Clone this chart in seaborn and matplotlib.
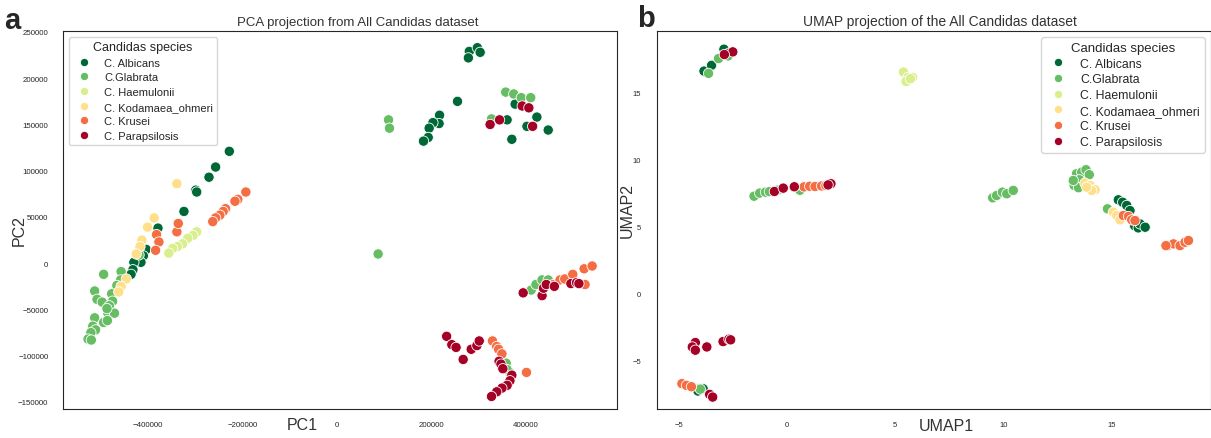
import matplotlib
matplotlib.use("Agg")
import pandas as pd
import matplotlib.pyplot as plt
import seaborn as sns

species = ["C. Albicans", "C.Glabrata", "C. Haemulonii",
           "C. Kodamaea_ohmeri", "C. Krusei", "C. Parapsilosis"]
colors = ["#006837", "#66bd63", "#d9ef8b", "#fee08b", "#f46d43", "#a50026"]

# --------------------------
# PCA coordinates (in thousands)
# --------------------------
pca_albicans_x = [-228, -257, -271, -299, -297, -324, -379, -404, -410, -415, -430, -432, -436,
                  280, 297, 303, 278, 255, 217, 216, 203, 195, 193, 183,
                  377, 360, 423, 402, 370, 447, 365]
pca_albicans_y = [121, 104, 93, 79, 77, 56, 38, 15, 8, 1, 1, -7, -12,
                  229, 233, 228, 222, 175, 160, 151, 152, 146, 136, 132,
                  172, 155, 158, 148, 134, 144, -118]
pca_glabrata_x = [-494, -457, -419, -458, -466, -513, -508, -497, -477, -475, -482, -485, -471,
                  -487, -513, -494, -517, -511, -521, -527, -520, -486, 87, 109, 111,
                  357, 374, 390, 410, 327, 411, 421, 434, 447, 358, 360]
pca_glabrata_y = [-12, -9, 9, -18, -24, -30, -39, -42, -33, -41, -46, -54, -54,
                  -49, -59, -64, -68, -72, -75, -82, -83, -62, 10, 155, 146,
                  185, 183, 179, 179, 156, -29, -23, -18, -18, -108, -115]
pca_haemulonii_x = [-297, -305, -316, -327, -338, -348, -356]
pca_haemulonii_y = [34, 30, 27, 21, 18, 16, 11]
pca_kodamaea_x = [-339, -387, -401, -413, -417, -425, -446, -457, -462]
pca_kodamaea_y = [86, 49, 39, 25, 18, 10, -17, -25, -31]
pca_krusei_x = [-193, -210, -216, -236, -241, -248, -257, -263, -339, -382, -377, -384, -336,
                458, 472, 482, 499, 523, 540, 525, 329, 338, 342, 349, 401]
pca_krusei_y = [77, 69, 67, 59, 56, 52, 49, 45, 34, 31, 23, 14, 43,
                -23, -18, -17, -12, -6, -3, -23, -84, -90, -93, -98, -118]
pca_parapsilosis_x = [392, 406, 344, 324, 414, 394, 434, 437, 443, 460, 495, 507, 512,
                      232, 243, 252, 267, 284, 296, 301, 343, 347, 351, 370, 366, 360, 349, 338, 327]
pca_parapsilosis_y = [170, 168, 155, 150, 148, -32, -35, -27, -23, -25, -22, -21, -22,
                      -79, -88, -91, -104, -93, -89, -84, -106, -109, -114, -121, -127, -132, -135, -139, -144]

# --------------------------
# UMAP coordinates
# --------------------------
umap_albicans_x = [-3.83, -3.48, -2.91, -2.68, -4.05, -3.87, -4.11,
                   15.3, 15.5, 15.69, 15.84, 16.05, 16.22, 16.3, 16.54]
umap_albicans_y = [16.57, 17.0, 18.2, 17.9, -7.07, -7.07, -7.24,
                   6.99, 6.81, 6.57, 6.19, 5.07, 4.9, 5.2, 4.95]
umap_glabrata_x = [-3.62, -3.16, -2.72, -1.52, -1.26, -0.99, -0.81, -0.45, 0.6,
                   9.5, 9.68, 9.95, 10.15, 10.45, 13.37, 13.61, 13.81, 13.96, 13.5,
                   13.26, 13.46, 13.22, 14.8, -4.0]
umap_glabrata_y = [16.4, 17.5, 17.7, 7.26, 7.49, 7.56, 7.6, 7.7, 7.7,
                   7.14, 7.31, 7.56, 7.44, 7.69, 8.93, 9.05, 9.23, 8.86, 8.48,
                   8.06, 7.89, 8.43, 6.32, -7.1]
umap_haemulonii_x = [5.38, 5.59, 5.5, 5.8, 5.7]
umap_haemulonii_y = [16.5, 16.1, 15.8, 16.1, 16.0]
umap_kodamaea_x = [13.76, 14.0, 14.23, 14.07, 13.84, 15.07, 15.23, 15.38]
umap_kodamaea_y = [8.23, 8.06, 7.74, 7.69, 7.93, 6.07, 5.82, 5.5]
umap_krusei_x = [0.79, 1.05, 1.3, 1.6, 1.8, 15.53, 15.77, 15.92, 16.07,
                 17.6, 17.85, 18.15, 18.38, 18.54, 17.5, -4.85, -4.64, -4.41]
umap_krusei_y = [7.95, 8.0, 7.98, 8.02, 8.05, 5.82, 5.75, 5.5, 5.45,
                 3.58, 3.71, 3.58, 3.83, 3.96, 3.58, -6.69, -6.82, -6.92]
umap_parapsilosis_x = [-2.5, -2.89, -0.58, -0.17, 0.34, 2.03, 1.9, -4.23, -4.37, -4.23,
                       -3.7, -2.95, -2.68, -2.6, -3.57, -3.43]
umap_parapsilosis_y = [18.0, 17.8, 7.61, 7.86, 7.96, 8.19, 8.1, -3.63, -3.96, -4.2,
                       -3.96, -3.56, -3.38, -3.43, -7.49, -7.69]


def make_df(xs, ys, scale=1.0):
    parts = []
    for name, x, y in zip(species, xs, ys):
        parts.append(pd.DataFrame({"x": [v * scale for v in x],
                                   "y": [v * scale for v in y],
                                   "Candidas species": name}))
    return pd.concat(parts, ignore_index=True)


pca_df = make_df([pca_albicans_x, pca_glabrata_x, pca_haemulonii_x,
                  pca_kodamaea_x, pca_krusei_x, pca_parapsilosis_x],
                 [pca_albicans_y, pca_glabrata_y, pca_haemulonii_y,
                  pca_kodamaea_y, pca_krusei_y, pca_parapsilosis_y], scale=1000)
umap_df = make_df([umap_albicans_x, umap_glabrata_x, umap_haemulonii_x,
                   umap_kodamaea_x, umap_krusei_x, umap_parapsilosis_x],
                  [umap_albicans_y, umap_glabrata_y, umap_haemulonii_y,
                   umap_kodamaea_y, umap_krusei_y, umap_parapsilosis_y])

sns.set_style("white")
plt.rcParams["font.family"] = ["Liberation Sans", "DejaVu Sans"]

fig = plt.figure(figsize=(12.11, 4.39), dpi=100)
ax1 = fig.add_axes([63 / 1211, 0.066, 554 / 1211, 0.861])
ax2 = fig.add_axes([657 / 1211, 0.066, 554 / 1211, 0.861])

for ax, df in [(ax1, pca_df), (ax2, umap_df)]:
    sns.scatterplot(data=df, x="x", y="y", hue="Candidas species",
                    hue_order=species, palette=colors, s=55,
                    edgecolor="white", linewidth=0.6, ax=ax)

# --------------------------
# Panel a: PCA
# --------------------------
ax1.set_xlim(-580000, 592600)
ax1.set_ylim(-157600, 251000)
ax1.set_xticks([-400000, -200000, 0, 200000, 400000])
ax1.set_yticks(list(range(-150000, 250001, 50000)))
ax1.tick_params(axis="y", labelsize=5.7, pad=7)
ax1.tick_params(axis="x", labelsize=5.7, pad=5)
ax1.set_title("PCA projection from All Candidas dataset", fontsize=9.5,
              color="#333333", x=0.532, pad=4)
ax1.set_xlabel("PC1", fontsize=11.5, color="#333333")
ax1.set_ylabel("PC2", fontsize=11.5, color="#333333")
ax1.xaxis.set_label_coords(0.431, -0.022)
ax1.yaxis.set_label_coords(-0.066, 0.476)
sns.move_legend(ax1, "upper left", title="Candidas species", fontsize=8,
                title_fontsize=9, labelspacing=0.42, markerscale=0.8)

# --------------------------
# Panel b: UMAP
# --------------------------
ax2.set_xlim(-6.0, 19.58)
ax2.set_ylim(-8.58, 19.55)
ax2.set_xticks([-5, 0, 5, 10, 15])
ax2.set_yticks([-5, 0, 5, 10, 15])
ax2.tick_params(axis="y", labelsize=5.5, pad=8)
ax2.tick_params(axis="x", labelsize=5.5, pad=5)
ax2.set_title("UMAP projection of the All Candidas dataset", fontsize=10,
              color="#333333", x=0.511, pad=4)
ax2.set_xlabel("UMAP1", fontsize=11.5, color="#333333")
ax2.set_ylabel("UMAP2", fontsize=11.5, color="#333333")
ax2.xaxis.set_label_coords(0.522, -0.024)
ax2.yaxis.set_label_coords(-0.040, 0.528)
sns.move_legend(ax2, "upper right", title="Candidas species", fontsize=8.8,
                title_fontsize=9.5, labelspacing=0.3, markerscale=0.8)

fig.text(4 / 1211, 1 - 29 / 439, "a", fontsize=21, fontweight="bold", va="baseline")
fig.text(637 / 1211, 1 - 27 / 439, "b", fontsize=21, fontweight="bold", va="baseline")

fig.savefig("out.png", dpi=100)
